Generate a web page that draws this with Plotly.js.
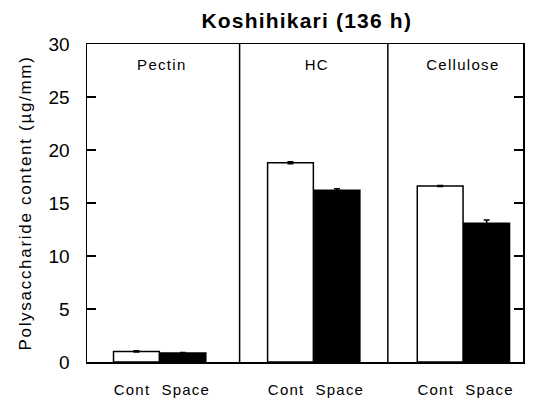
<!DOCTYPE html>
<html>
<head>
<meta charset="utf-8">
<script src="https://cdn.plot.ly/plotly-3.0.1.min.js"></script>
<style>
html,body{margin:0;padding:0;background:#fff;}
#chart{width:541px;height:405px;}
#chart .gtitle{letter-spacing:1.2px;}
#chart .ytitle{letter-spacing:1.7px;}
#chart .xtick text{letter-spacing:1.2px;}
#chart .annotation-text{letter-spacing:1.3px;}
</style>
</head>
<body>
<div id="chart"></div>
<script>
var categories = ["Pectin", "HC", "Cellulose"];
var contValues = [1.0, 18.8, 16.6];
var spaceValues = [0.85, 16.2, 13.1];
var contErrors = [0.05, 0.1, 0.05];
var spaceErrors = [0.05, 0.15, 0.3];
var seriesLabels = ["Cont", "Space"];

var groupCenters = [0.5, 1.56, 2.59];
var dividers = [1.05, 2.07];
var labelX = [0.516, 1.58, 2.59];
var off = 0.16;
var bw = 0.315;

var contX = groupCenters.map(function(c){return c - off;});
var spaceX = groupCenters.map(function(c){return c + off;});

var FONT = 'Liberation Sans, Arial, sans-serif';

var traces = [
  {type:'bar', x: contX, y: contValues, width: bw, name: seriesLabels[0],
   marker:{color:'#ffffff', line:{color:'#000', width:1.5}},
   error_y:{type:'data', array: contErrors, visible:true, color:'#000', thickness:1.5, width:3}},
  {type:'bar', x: spaceX, y: spaceValues, width: bw, name: seriesLabels[1],
   marker:{color:'#000000', line:{color:'#000', width:1.5}},
   error_y:{type:'data', array: spaceErrors, visible:true, color:'#000', thickness:1.5, width:3}}
];

var tickvals = [], ticktext = [];
for (var i = 0; i < categories.length; i++) {
  tickvals.push(contX[i] - 0.03); ticktext.push(seriesLabels[0]);
  tickvals.push(spaceX[i] + 0.02); ticktext.push(seriesLabels[1]);
}

var shapes = dividers.map(function(d){
  return {type:'line', xref:'x', yref:'paper', x0:d, x1:d, y0:0, y1:1, line:{color:'#000', width:1.5}};
});

var annotations = categories.map(function(c, i){
  return {text:c, xref:'x', yref:'paper', x: labelX[i], y:0.935, yanchor:'middle', xanchor:'center', showarrow:false,
    font:{family:FONT, size:15, color:'#000'}};
});

var layout = {
  width:541, height:405,
  margin:{l:87, r:18, t:44, b:43},
  paper_bgcolor:'#fff', plot_bgcolor:'#fff',
  showlegend:false,
  title:{text:'<b>Koshihikari (136 h)</b>', x:0.567, xanchor:'center', y:0.95, yanchor:'middle',
    font:{family:FONT, size:21, color:'#000'}},
  xaxis:{range:[0,3], tickvals:tickvals, ticktext:ticktext, ticks:'', showgrid:false, zeroline:false,
    showline:true, linecolor:'#000', linewidth:1.5, mirror:true, ticklabelstandoff:13,
    tickfont:{family:FONT, size:15, color:'#000'}},
  yaxis:{range:[0,30], dtick:5, tick0:0, ticks:'inside', ticklen:9, tickwidth:1.5, tickcolor:'#000',
    showgrid:false, zeroline:false, showline:true, linecolor:'#000', linewidth:1.5, mirror:'ticks',
    ticklabelstandoff:12,
    tickfont:{family:FONT, size:19, color:'#000'},
    title:{text:'Polysaccharide content (µg/mm)', standoff:12,
      font:{family:FONT, size:17, color:'#000'}}},
  shapes:shapes,
  annotations:annotations,
  bargap:0
};

Plotly.newPlot('chart', traces, layout, {staticPlot:true, displayModeBar:false});
</script>
</body>
</html>
